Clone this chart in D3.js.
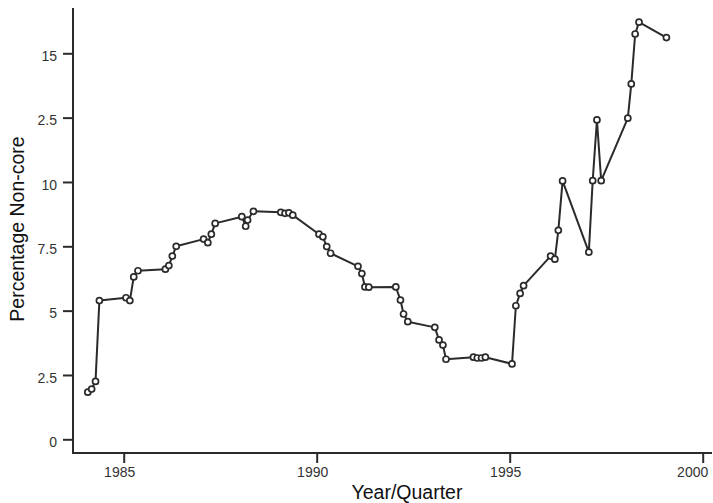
<!DOCTYPE html>
<html>
<head>
<meta charset="utf-8">
<script src="https://cdn.jsdelivr.net/npm/d3@7"></script>
<style>
  html, body { margin: 0; padding: 0; background: #fff; }
  svg { display: block; }
  text { font-family: "Liberation Sans", Arial, Helvetica, sans-serif; }
</style>
</head>
<body>
<svg id="chart" width="713" height="503"></svg>
<script>
// Year/Quarter positions (decimal)
const periods = [
  1984.07, 1984.17, 1984.27, 1984.37,
  1985.06, 1985.16, 1985.26, 1985.37,
  1986.08, 1986.17, 1986.26, 1986.36,
  1987.07, 1987.18, 1987.27, 1987.37,
  1988.06, 1988.16, 1988.21, 1988.36,
  1989.07, 1989.18, 1989.28, 1989.38,
  1990.06, 1990.16, 1990.26, 1990.36,
  1991.07, 1991.17, 1991.25, 1991.35,
  1992.05, 1992.17, 1992.25, 1992.36,
  1993.06, 1993.17, 1993.27, 1993.35,
  1994.06, 1994.16, 1994.27, 1994.37,
  1995.06, 1995.16, 1995.27, 1995.36,
  1996.06, 1996.17, 1996.26, 1996.37,
  1997.05, 1997.15, 1997.26, 1997.37,
  1998.06, 1998.15, 1998.25, 1998.35,
  1999.06
];
// Percentage non-core values
const nonCore = [
  1.83, 1.95, 2.25, 5.39,
  5.50, 5.39, 6.31, 6.55,
  6.61, 6.75, 7.12, 7.50,
  7.78, 7.64, 7.97, 8.39,
  8.65, 8.28, 8.52, 8.86,
  8.82, 8.78, 8.80, 8.71,
  7.97, 7.87, 7.49, 7.23,
  6.72, 6.44, 5.92, 5.91,
  5.92, 5.41, 4.87, 4.57,
  4.35, 3.86, 3.66, 3.11,
  3.19, 3.16, 3.16, 3.19,
  2.93, 5.19, 5.67, 5.97,
  7.12, 7.00, 8.12, 10.04,
  7.27, 10.05, 12.41, 10.05,
  12.48, 13.81, 15.75, 16.21,
  15.61
];
const xTicks = [1985, 1990, 1995, 2000];
const yTicks = [0, 2.5, 5, 7.5, 10, 12.5, 15];
const yTickLabels = ["0", "2.5", "5", "7.5", "10", "2.5", "15"];

const svg = d3.select("#chart");
const axisX0 = 73, axisY0 = 453;

const x = d3.scaleLinear().domain([1985, 2000]).range([123.7, 702.7]);
const y = d3.scaleLinear().domain([0, 15]).range([439.3, 53.3]);

const ink = "#2b2b2b";

// axis lines
svg.append("line").attr("x1", axisX0).attr("x2", axisX0).attr("y1", 8).attr("y2", axisY0 + 1)
  .attr("stroke", ink).attr("stroke-width", 2);
svg.append("line").attr("x1", axisX0 - 1).attr("x2", 712).attr("y1", axisY0).attr("y2", axisY0)
  .attr("stroke", ink).attr("stroke-width", 2);

// y axis
const gy = svg.append("g").attr("transform", `translate(${axisX0},0)`)
  .call(d3.axisLeft(y).tickValues(yTicks).tickSize(10).tickPadding(6)
    .tickFormat((d, i) => yTickLabels[i]));
gy.select(".domain").remove();
gy.selectAll(".tick line").attr("stroke", ink).attr("stroke-width", 2);
gy.selectAll(".tick text").attr("fill", "#333").attr("dy", "0.52em").style("font-size", "14px")
  .style("font-family", "'Liberation Sans', Arial, sans-serif");

// x axis
const gx = svg.append("g").attr("transform", `translate(0,${axisY0})`)
  .call(d3.axisBottom(x).tickValues(xTicks).tickSize(10).tickPadding(4)
    .tickFormat(d3.format("d")));
gx.select(".domain").remove();
gx.selectAll(".tick line").attr("stroke", ink).attr("stroke-width", 2);
gx.selectAll(".tick text").attr("fill", "#333")
  .attr("dx", d => d === 2000 ? -10.5 : -4.5).style("font-size", "14px")
  .style("font-family", "'Liberation Sans', Arial, sans-serif");

// axis titles
svg.append("text").attr("x", 407).attr("y", 499).attr("text-anchor", "middle")
  .attr("fill", "#111").style("font-size", "19.5px").text("Year/Quarter");
svg.append("text").attr("transform", "translate(24,229) rotate(-90)")
  .attr("text-anchor", "middle").attr("fill", "#111").style("font-size", "19.5px")
  .text("Percentage Non-core");

// data
const data = periods.map((p, i) => ({ p, v: nonCore[i] }));
const line = d3.line().x(d => x(d.p)).y(d => y(d.v));
svg.append("path").datum(data).attr("d", line)
  .attr("fill", "none").attr("stroke", ink).attr("stroke-width", 2).attr("stroke-linejoin", "round");
svg.append("g").selectAll("circle").data(data).join("circle")
  .attr("cx", d => x(d.p)).attr("cy", d => y(d.v)).attr("r", 3)
  .attr("fill", "#fff").attr("stroke", ink).attr("stroke-width", 1.7);
</script>
</body>
</html>
